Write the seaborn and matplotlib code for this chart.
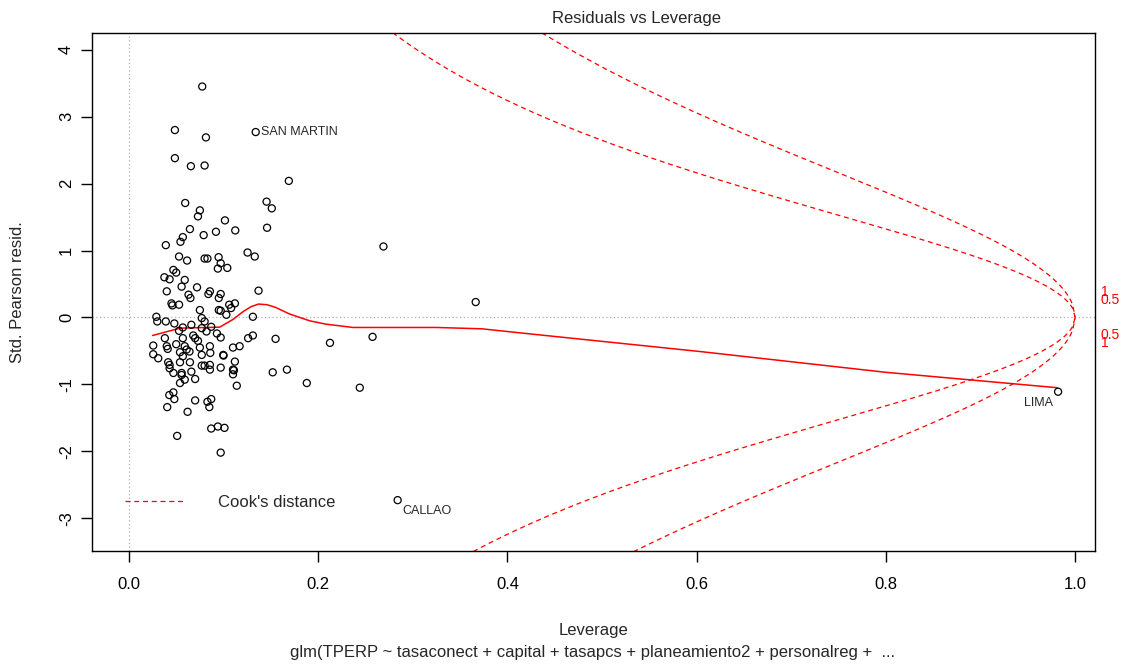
import numpy as np
import pandas as pd
import matplotlib
matplotlib.use("Agg")
import matplotlib.pyplot as plt
import seaborn as sns

# leverage / std. pearson residuals
leverage = [0.0775, 0.0486, 0.0814, 0.134, 0.0486, 0.0655, 0.080, 0.169, 0.0595, 0.075,
            0.073, 0.1015, 0.1455, 0.151, 0.146, 0.0645, 0.079, 0.092, 0.1124, 0.057,
            0.0545, 0.039, 0.053, 0.0615, 0.080, 0.083, 0.0948, 0.097, 0.094, 0.104,
            0.1254, 0.133, 0.047, 0.050, 0.0375, 0.043, 0.059, 0.269, 0.040, 0.0557,
            0.063, 0.065, 0.072, 0.0856, 0.084, 0.095, 0.097, 0.045, 0.046, 0.053,
            0.075, 0.095, 0.106, 0.108, 0.112, 0.137, 0.131, 0.097, 0.103, 0.3665,
            0.029, 0.030, 0.039, 0.048, 0.057, 0.066, 0.077, 0.080, 0.077, 0.082,
            0.087, 0.093, 0.097, 0.053, 0.057, 0.068, 0.070, 0.038, 0.0257, 0.040,
            0.041, 0.050, 0.059, 0.061, 0.054, 0.057, 0.064, 0.073, 0.075, 0.0856,
            0.086, 0.077, 0.0997, 0.110, 0.117, 0.126, 0.131, 0.155, 0.2125, 0.2575,
            0.0257, 0.031, 0.0415, 0.043, 0.054, 0.0645, 0.077, 0.080, 0.0856, 0.097,
            0.112, 0.110, 0.0557, 0.066, 0.100, 0.043, 0.047, 0.0557, 0.059, 0.054,
            0.070, 0.0856, 0.110, 0.114, 0.152, 0.167, 0.188, 0.244, 0.0427, 0.047,
            0.048, 0.0405, 0.062, 0.070, 0.083, 0.087, 0.085, 0.051, 0.087, 0.094,
            0.101, 0.097, 0.284, 0.982, 0.111]
resid = [3.45, 2.80, 2.69, 2.77, 2.38, 2.26, 2.27, 2.04, 1.71, 1.60,
         1.51, 1.45, 1.73, 1.63, 1.34, 1.32, 1.23, 1.28, 1.30, 1.20,
         1.13, 1.08, 0.91, 0.85, 0.88, 0.88, 0.90, 0.81, 0.73, 0.74,
         0.97, 0.91, 0.71, 0.67, 0.60, 0.57, 0.56, 1.06, 0.39, 0.46,
         0.34, 0.29, 0.45, 0.39, 0.35, 0.29, 0.35, 0.21, 0.18, 0.19,
         0.11, 0.11, 0.19, 0.14, 0.21, 0.40, 0.01, 0.10, 0.04, 0.23,
         0.01, -0.06, -0.06, -0.09, -0.15, -0.11, -0.01, -0.06, -0.16, -0.21,
         -0.14, -0.24, -0.30, -0.20, -0.31, -0.27, -0.31, -0.31, -0.42, -0.43,
         -0.47, -0.40, -0.43, -0.48, -0.52, -0.58, -0.51, -0.35, -0.45, -0.43,
         -0.53, -0.56, -0.56, -0.45, -0.43, -0.31, -0.27, -0.32, -0.38, -0.29,
         -0.55, -0.61, -0.67, -0.71, -0.67, -0.67, -0.72, -0.72, -0.71, -0.75,
         -0.66, -0.78, -0.83, -0.81, -0.57, -0.76, -0.83, -0.86, -0.93, -0.98,
         -0.92, -0.78, -0.85, -1.02, -0.82, -0.78, -0.98, -1.05, -1.16, -1.12,
         -1.22, -1.34, -1.41, -1.24, -1.26, -1.22, -1.34, -1.77, -1.66, -1.63,
         -1.65, -2.02, -2.73, -1.11, -0.79]

# labelled observations
label_names = ["SAN MARTIN", "CALLAO", "LIMA"]
label_lev = [0.134, 0.284, 0.982]
label_res = [2.77, -2.73, -1.11]

# red smoother
smooth_lev = [0.025, 0.054, 0.096, 0.110, 0.121, 0.129, 0.137, 0.146, 0.155, 0.170,
              0.191, 0.208, 0.237, 0.286, 0.325, 0.373, 0.413, 0.604, 0.800, 0.981]
smooth_res = [-0.27, -0.16, -0.145, -0.03, 0.09, 0.16, 0.20, 0.19, 0.15, 0.05,
              -0.05, -0.10, -0.15, -0.15, -0.15, -0.17, -0.23, -0.51, -0.82, -1.05]

# Cook's distance contours
cook_levels = [0.5, 1.0]
n_params = 14

df = pd.DataFrame({"leverage": leverage, "resid": resid})

sns.set_style("white")
plt.rcParams["font.family"] = ["Liberation Sans", "DejaVu Sans"]
plt.rcParams["axes.unicode_minus"] = False

fig = plt.figure(figsize=(11.23, 6.67), dpi=100)
ax = fig.add_axes([92 / 1123, 1 - 551 / 667, 1003 / 1123, 518 / 667])

ax.axhline(0, color="#b0b0b0", ls=(0, (1, 2)), lw=0.9, zorder=0)
ax.axvline(0, color="#b0b0b0", ls=(0, (1, 2)), lw=0.9, zorder=0)

sns.scatterplot(data=df, x="leverage", y="resid", ax=ax, marker="o", s=26,
                facecolors="none", edgecolor="black", linewidth=0.9, zorder=3)

sns.lineplot(x=smooth_lev, y=smooth_res, ax=ax, color="red", lw=1.1, sort=False,
             estimator=None, zorder=2)

hh = np.linspace(0.005, 1.0, 400)
for c in cook_levels:
    yy = np.sqrt(c * n_params * (1 - hh) / hh)
    ax.plot(hh, yy, color="red", ls=(0, (4, 3)), lw=0.9)
    ax.plot(hh, -yy, color="red", ls=(0, (4, 3)), lw=0.9)
    yl = np.sqrt(c * n_params * (1 - 0.99) / 0.99)
    lab = "0.5" if c == 0.5 else "1"
    ax.text(1.027, yl, lab, color="red", fontsize=10, ha="left", va="center", clip_on=False)
    ax.text(1.027, -yl, lab, color="red", fontsize=10, ha="left", va="center", clip_on=False)

ax.text(label_lev[0] + 0.006, label_res[0], label_names[0], fontsize=9,
        ha="left", va="center")
ax.text(label_lev[1] + 0.005, label_res[1] - 0.08, label_names[1], fontsize=9,
        ha="left", va="top")
ax.text(label_lev[2] - 0.005, label_res[2] - 0.08, label_names[2], fontsize=9,
        ha="right", va="top")

ax.plot([], [], color="red", ls=(0, (4, 3)), lw=0.9, label="Cook's distance")
ax.legend(loc="lower left", bbox_to_anchor=(0.018, 0.05), frameon=False,
          fontsize=12, handlelength=3.6, handletextpad=2.0)

ax.set_xlim(-0.039, 1.021)
ax.set_ylim(-3.49, 4.25)
ax.set_xticks([0.0, 0.2, 0.4, 0.6, 0.8, 1.0])
ax.set_xticklabels(["0.0", "0.2", "0.4", "0.6", "0.8", "1.0"])
ax.set_yticks(range(-3, 5))
ax.tick_params(axis="both", direction="out", length=8, width=1, labelsize=12,
               colors="black", left=True, bottom=True)
ax.tick_params(axis="x", pad=11)
ax.tick_params(axis="y", pad=5)
for lbl in ax.get_yticklabels():
    lbl.set_rotation(90)
    lbl.set_va("center")
for s in ax.spines.values():
    s.set_color("black")
    s.set_linewidth(1)
ax.set_xlabel("")
ax.set_ylabel("")

fig.text(636 / 1123, 1 - 18 / 667, "Residuals vs Leverage", ha="center", va="center", fontsize=12)
fig.text(593 / 1123, 1 - 631 / 667, "Leverage", ha="center", va="center", fontsize=12)
fig.text(593 / 1123, 1 - 652 / 667,
         "glm(TPERP ~ tasaconect + capital + tasapcs + planeamiento2 + personalreg +  ...",
         ha="center", va="center", fontsize=12)
fig.text(18 / 1123, 1 - 292 / 667, "Std. Pearson resid.", ha="center", va="center",
         rotation=90, fontsize=12)

fig.savefig("out.png", dpi=100)
